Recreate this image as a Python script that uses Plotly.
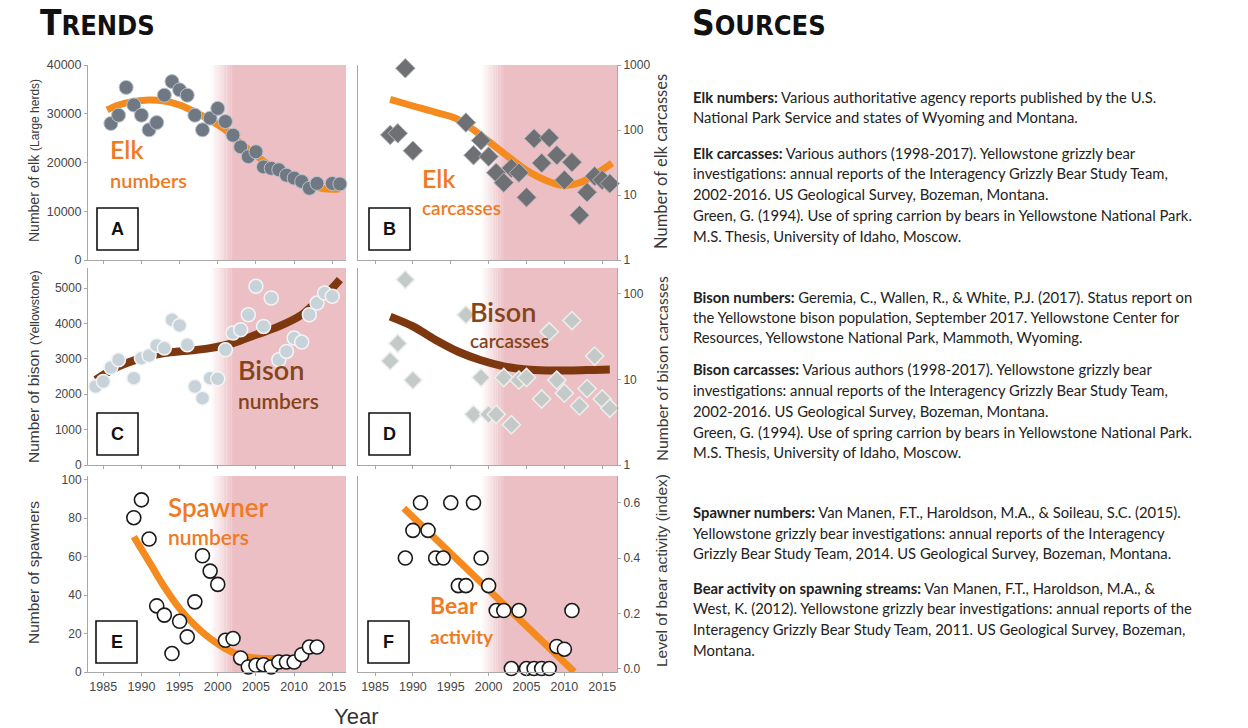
import plotly.graph_objects as go

W, H = 1248, 728

# ---------------- data ----------------
elk_year = [1986, 1987, 1988, 1989, 1990, 1991, 1992, 1993, 1994, 1995, 1996, 1997, 1998, 1999, 2000,
            2001, 2002, 2003, 2004, 2005, 2006, 2007, 2008, 2009, 2010, 2011, 2012, 2013, 2015, 2016]
elk_count = [28000, 29700, 35400, 31800, 29700, 26700, 28200, 33800, 36600, 34900, 33800, 29700, 26700, 29100, 31100,
             28400, 25600, 23200, 21200, 22200, 19100, 18800, 18500, 17400, 16800, 16100, 14700, 15700, 15700, 15600]
elk_trend_year = [1985.5, 1987, 1989, 1991, 1993, 1995, 1997, 1999, 2001, 2003, 2005, 2007, 2009, 2011, 2013, 2015, 2016]
elk_trend = [30800, 31800, 32500, 32800, 32600, 31800, 30400, 28700, 26700, 23900, 21500, 19100, 17400, 16100, 14900, 14500, 14600]

elkc_year = [1987, 1988, 1989, 1990, 1997, 1998, 1999, 2000, 2001, 2002, 2003, 2004, 2005, 2006, 2007, 2008,
             2009, 2010, 2011, 2012, 2013, 2014, 2015, 2016]
elkc_count = [84, 89, 890, 48, 130, 41, 69, 39, 22, 15.5, 26, 22, 9.2, 74, 31, 76,
              41, 17, 32, 4.9, 11, 19.5, 17, 15]
elkc_trend_year = [1987, 1990, 1993, 1996, 1999, 2002, 2005, 2008, 2010, 2012, 2014, 2016.3]
elkc_trend = [295, 234, 187, 145, 82, 44, 24, 16, 14, 15.4, 20.5, 31]

bison_year = [1984, 1985, 1986, 1987, 1989, 1990, 1991, 1992, 1993, 1994, 1995, 1996, 1997, 1998, 1999, 2000,
              2001, 2002, 2003, 2004, 2005, 2006, 2007, 2008, 2009, 2010, 2011, 2012, 2013, 2014, 2015]
bison_count = [2217, 2358, 2755, 2972, 2453, 3019, 3094, 3377, 3302, 4104, 3943, 3396, 2217, 1887, 2453, 2434,
               3255, 3727, 3821, 4245, 5047, 3915, 4717, 2972, 3208, 3585, 3472, 4245, 4575, 4858, 4764]
bison_trend_year = [1984, 1987, 1990, 1993, 1996, 1999, 2002, 2005, 2008, 2011, 2013, 2015, 2016]
bison_trend = [2406, 2783, 3019, 3160, 3226, 3302, 3443, 3679, 3915, 4245, 4623, 5000, 5236]

bisc_year = [1987, 1988, 1989, 1990, 1997, 1998, 1999, 2000, 2001, 2002, 2003, 2004, 2005, 2007, 2008,
             2009, 2010, 2011, 2012, 2013, 2014, 2015, 2016]
bisc_count = [16.4, 26.3, 146, 9.8, 56.6, 3.9, 10.5, 3.9, 3.9, 10.5, 2.95, 9.8, 10.5, 5.9, 36,
              9.8, 6.9, 48.6, 4.9, 7.8, 18.7, 5.9, 4.6]
bisc_trend_year = [1987, 1990, 1993, 1996, 1999, 2002, 2005, 2008, 2011, 2014, 2016]
bisc_trend = [54, 41.5, 28.8, 21, 16.7, 14.2, 13, 12.7, 12.7, 12.9, 13]

spawn_year = [1989, 1990, 1991, 1992, 1993, 1994, 1995, 1996, 1997, 1998, 1999, 2000, 2001,
              2002, 2003, 2004, 2005, 2006, 2007, 2008, 2009, 2010, 2011, 2012, 2013]
spawn_count = [80.3, 89.6, 69.2, 34.4, 29.6, 9.6, 26.4, 18.3, 36.5, 60.5, 52.5, 45.6, 16.5,
               17.4, 7.3, 2.6, 3.5, 3.8, 2.6, 5.2, 5.2, 5.2, 9.0, 13.0, 13.0]
spawn_trend_year = [1989, 1991, 1993, 1995, 1997, 1999, 2001, 2003, 2005, 2007.5]
spawn_trend = [70.4, 57.4, 44.3, 33, 24.3, 17.4, 12.2, 8.7, 7.3, 7]

bear_year = [1989, 1990, 1991, 1992, 1993, 1994, 1995, 1996, 1997, 1998, 1999, 2000,
             2001, 2002, 2003, 2004, 2005, 2006, 2007, 2008, 2009, 2010, 2011]
bear_index = [0.40, 0.50, 0.60, 0.50, 0.40, 0.40, 0.60, 0.30, 0.30, 0.60, 0.40, 0.30,
              0.21, 0.21, 0.0, 0.21, 0.0, 0.0, 0.0, 0.0, 0.08, 0.07, 0.21]
bear_trend_year = [1988.8, 2011.3]
bear_trend = [0.58, -0.012]

year_ticks = [1985, 1990, 1995, 2000, 2005, 2010, 2015]
shade_start, shade_full, shade_end = 1999.0, 2002.0, 2020

ORANGE = '#f58a1f'
ORANGE_TXT = '#ef7a22'
BROWN = '#7e3810'
BROWN_TXT = '#86441c'
AXC = '#a8a8a8'
TICKC = '#454545'


def px(x):
    return x / W


def py(y):
    return 1 - y / H


fig = go.Figure()


def line_trace(xs, ys, color, width, ax, shape='spline'):
    fig.add_trace(go.Scatter(x=xs, y=ys, mode='lines', line=dict(color=color, width=width, shape=shape),
                             cliponaxis=False, xaxis='x' + ax, yaxis='y' + ax))


def marker_trace(xs, ys, symbol, size, color, lcolor, lwidth, ax):
    fig.add_trace(go.Scatter(x=xs, y=ys, mode='markers', cliponaxis=False,
                             marker=dict(symbol=symbol, size=size, color=color, line=dict(color=lcolor, width=lwidth)),
                             xaxis='x' + ax, yaxis='y' + ax))


# ---------------- traces ----------------
line_trace(elk_trend_year, elk_trend, ORANGE, 7, '')
marker_trace(elk_year, elk_count, 'circle', 14, '#707884', '#b9c3cc', 1, '')

line_trace(elkc_trend_year, elkc_trend, ORANGE, 7, '2')
marker_trace(elkc_year, elkc_count, 'diamond', 15, '#6f7073', '#b0b4b8', 1, '2')

line_trace(bison_trend_year, bison_trend, BROWN, 8, '3')
marker_trace(bison_year, bison_count, 'circle', 14, '#c8d2d9', '#f2f4f5', 1.5, '3')

line_trace(bisc_trend_year, bisc_trend, BROWN, 8, '4')
marker_trace(bisc_year, bisc_count, 'diamond', 14, '#c4cac7', '#eceeed', 1.5, '4')

line_trace(spawn_trend_year, spawn_trend, ORANGE, 7, '5')
marker_trace(spawn_year, spawn_count, 'circle', 14, 'white', '#1a1a1a', 1.6, '5')

line_trace(bear_trend_year, bear_trend, ORANGE, 7, '6', shape='linear')
marker_trace(bear_year, bear_index, 'circle', 14, 'white', '#1a1a1a', 1.6, '6')

# ---------------- axes ----------------
LEFT_X = [88 / W, 346 / W]
RIGHT_X = [358 / W, 617 / W]
ROW1 = [py(260), py(65)]
ROW2 = [py(465), py(268)]
ROW3 = [py(672), py(476)]
tfont = dict(family='Liberation Sans, Arial, sans-serif', size=12, color=TICKC)


def xax(dom, rng, anchor, labels):
    return dict(domain=dom, range=rng, anchor=anchor, showline=True, linecolor=AXC, linewidth=1,
                ticks='outside', ticklen=3, tickcolor=AXC, tickvals=year_ticks, showticklabels=labels,
                automargin=False, fixedrange=True,
                showgrid=False, zeroline=False, tickfont=dict(family='Liberation Sans, Arial, sans-serif', size=12.5, color=TICKC))


def yax(dom, anchor, side, **kw):
    d = dict(domain=dom, anchor=anchor, side=side, showline=True, linecolor=AXC, linewidth=1,
             ticks='outside', ticklen=3, tickcolor=AXC, showgrid=False, zeroline=False, tickfont=tfont,
             automargin=False, fixedrange=True)
    d.update(kw)
    return d


lr = [1983, 2016.8]
rr = [1982.75, 2016.95]
fig.update_layout(
    xaxis=xax(LEFT_X, lr, 'y', False),
    xaxis2=xax(RIGHT_X, rr, 'y2', False),
    xaxis3=xax(LEFT_X, lr, 'y3', False),
    xaxis4=xax(RIGHT_X, rr, 'y4', False),
    xaxis5=xax(LEFT_X, lr, 'y5', True),
    xaxis6=xax(RIGHT_X, rr, 'y6', True),
    yaxis=yax(ROW1, 'x', 'left', range=[0, 40000], tickvals=[0, 10000, 20000, 30000, 40000], tickformat='d',
              tickfont=dict(family='Liberation Sans, Arial, sans-serif', size=12.5, color=TICKC)),
    yaxis2=yax(ROW1, 'x2', 'right', type='log', range=[0, 3], tickvals=[1, 10, 100, 1000], mirror=True),
    yaxis3=yax(ROW2, 'x3', 'left', range=[0, 5565], tickvals=[0, 1000, 2000, 3000, 4000, 5000], tickformat='d'),
    yaxis4=yax(ROW2, 'x4', 'right', type='log', range=[0, 2.30], tickvals=[1, 10, 100], mirror=True),
    yaxis5=yax(ROW3, 'x5', 'left', range=[0, 102], tickvals=[0, 20, 40, 60, 80, 100]),
    yaxis6=yax(ROW3, 'x6', 'right', range=[-0.0125, 0.697], tickvals=[0, 0.2, 0.4, 0.6], tickformat='.1f',
               mirror=True),
)

# ---------------- shading (gradient approximated with strips) ----------------
shapes = []
pink = (236, 191, 196)
nstrip = 14
for i in range(1, 7):
    xr = 'x' if i == 1 else f'x{i}'
    yr = 'y domain' if i == 1 else f'y{i} domain'
    step = (shade_full - shade_start) / nstrip
    for k in range(nstrip):
        t = (k + 0.5) / nstrip
        c = tuple(int(round(255 + (p - 255) * t)) for p in pink)
        shapes.append(dict(type='rect', xref=xr, yref=yr, x0=shade_start + k * step, x1=shade_start + (k + 1) * step + 0.02,
                           y0=0, y1=1, fillcolor=f'rgb{c}', line=dict(width=0), layer='below'))
    shapes.append(dict(type='rect', xref=xr, yref=yr, x0=shade_full, x1=shade_end, y0=0, y1=1,
                       fillcolor=f'rgb{pink}', line=dict(width=0), layer='below'))

# panel letter boxes
boxes = [('A', 97, 208), ('B', 369, 208), ('C', 97, 413), ('D', 369, 413), ('E', 96, 621), ('F', 368, 621)]
annotations = []
for letter, bx, by in boxes:
    shapes.append(dict(type='rect', xref='paper', yref='paper', x0=px(bx), x1=px(bx + 41), y0=py(by + 42), y1=py(by),
                       fillcolor='white', line=dict(color='#111111', width=1.6), layer='above'))
    annotations.append(dict(text=f'<b>{letter}</b>', x=px(bx + 20.5), y=py(by + 21), xref='paper', yref='paper',
                            xanchor='center', yanchor='middle', showarrow=False,
                            font=dict(family='Liberation Sans, Arial', size=18, color='#111111')))

fig.update_layout(shapes=shapes)


def ann(text, x, y, size, color, family='Lato, Open Sans, sans-serif', xanchor='left', angle=0, yanchor='middle',
        weight='normal'):
    annotations.append(dict(text=text, x=px(x), y=py(y), xref='paper', yref='paper', showarrow=False,
                            xanchor=xanchor, yanchor=yanchor, textangle=angle,
                            font=dict(family=family, size=size, color=color, weight=weight)))


# series labels
ann('Elk', 108, 149, 25, ORANGE_TXT, weight=600)
ann('numbers', 108, 180, 20, ORANGE_TXT, weight=600)
ann('Elk', 420, 178, 25, ORANGE_TXT, weight=600)
ann('carcasses', 420, 207, 19, ORANGE_TXT, weight=600)
ann('Bison', 236, 369, 27, BROWN_TXT, weight=600)
ann('numbers', 236, 400, 21, BROWN_TXT, weight=600)
ann('Bison', 468, 311, 27, BROWN_TXT, weight=600)
ann('carcasses', 468, 340, 19, BROWN_TXT, weight=600)
ann('Spawner', 166, 507, 26, ORANGE_TXT, weight=600)
ann('numbers', 166, 536, 21, ORANGE_TXT, weight=600)
ann('Bear', 428, 605, 23, ORANGE_TXT, weight='bold')
ann('activity', 428, 636, 19, ORANGE_TXT, weight='bold')

# axis titles
AF = 'Liberation Sans, Arial, sans-serif'
ann('Number of elk <span style="font-size:12px">(Large herds)</span>', 34, 161, 14, '#3a3a3a', AF, 'center', -90)
ann('Number of bison <span style="font-size:12.5px">(Yellowstone)</span>', 33, 367, 15.5, '#3a3a3a', AF, 'center', -90)
ann('Number of spawners', 33, 573, 15.5, '#3a3a3a', AF, 'center', -90)
ann('Number of elk carcasses', 661, 162, 16.5, '#3a3a3a', 'Lato, Open Sans, sans-serif', 'center', -90)
ann('Number of bison carcasses', 661, 369, 15.8, '#3a3a3a', 'Lato, Open Sans, sans-serif', 'center', -90)
ann('Level of bear activity (index)', 661, 571, 15.5, '#3a3a3a', AF, 'center', -90)
ann('Year', 356, 716, 22, '#333333', AF, 'center')

# headers
HF = 'Liberation Sans Narrow, DejaVu Sans Condensed, Liberation Sans, sans-serif'
ann('<b>T<span style="font-size:27px">RENDS</span></b>', 38, 23, 35, '#111111', HF)
ann('<b>S<span style="font-size:27px">OURCES</span></b>', 690, 23, 35, '#111111', HF)

# sources
source_lines = [
    (97, '<b>Elk numbers:</b> Various authoritative agency reports published by the U.S.'),
    (117, 'National Park Service and states of Wyoming and Montana.'),
    (153, '<b>Elk carcasses:</b> Various authors (1998-2017). Yellowstone grizzly bear'),
    (173, 'investigations: annual reports of the Interagency Grizzly Bear Study Team,'),
    (194, '2002-2016. US Geological Survey, Bozeman, Montana.'),
    (215, 'Green, G. (1994). Use of spring carrion by bears in Yellowstone National Park.'),
    (236, 'M.S. Thesis, University of Idaho, Moscow.'),
    (297, '<b>Bison numbers:</b> Geremia, C., Wallen, R., &amp; White, P.J. (2017). Status report on'),
    (317, 'the Yellowstone bison population, September 2017. Yellowstone Center for'),
    (337, 'Resources, Yellowstone National Park, Mammoth, Wyoming.'),
    (369, '<b>Bison carcasses:</b> Various authors (1998-2017). Yellowstone grizzly bear'),
    (390, 'investigations: annual reports of the Interagency Grizzly Bear Study Team,'),
    (411, '2002-2016. US Geological Survey, Bozeman, Montana.'),
    (432, 'Green, G. (1994). Use of spring carrion by bears in Yellowstone National Park.'),
    (452, 'M.S. Thesis, University of Idaho, Moscow.'),
    (512, '<b>Spawner numbers:</b> Van Manen, F.T., Haroldson, M.A., &amp; Soileau, S.C. (2015).'),
    (533, 'Yellowstone grizzly bear investigations: annual reports of the Interagency'),
    (553, 'Grizzly Bear Study Team, 2014. US Geological Survey, Bozeman, Montana.'),
    (588, '<b>Bear activity on spawning streams:</b> Van Manen, F.T., Haroldson, M.A., &amp;'),
    (608, 'West, K. (2012). Yellowstone grizzly bear investigations: annual reports of the'),
    (629, 'Interagency Grizzly Bear Study Team, 2011. US Geological Survey, Bozeman,'),
    (650, 'Montana.'),
]
for yy, txt in source_lines:
    ann(txt, 691, yy, 14.8, '#222222', 'Lato, Open Sans, sans-serif')

fig.update_layout(
    width=W, height=H, autosize=False, margin=dict(l=0, r=0, t=0, b=0, pad=0, autoexpand=False),
    paper_bgcolor='white', plot_bgcolor='rgba(0,0,0,0)', showlegend=False,
    annotations=annotations,
)

fig.write_html('out.html', config={'displayModeBar': False, 'responsive': False},
               post_script="document.body.style.margin='0px';document.body.style.overflow='hidden';")
